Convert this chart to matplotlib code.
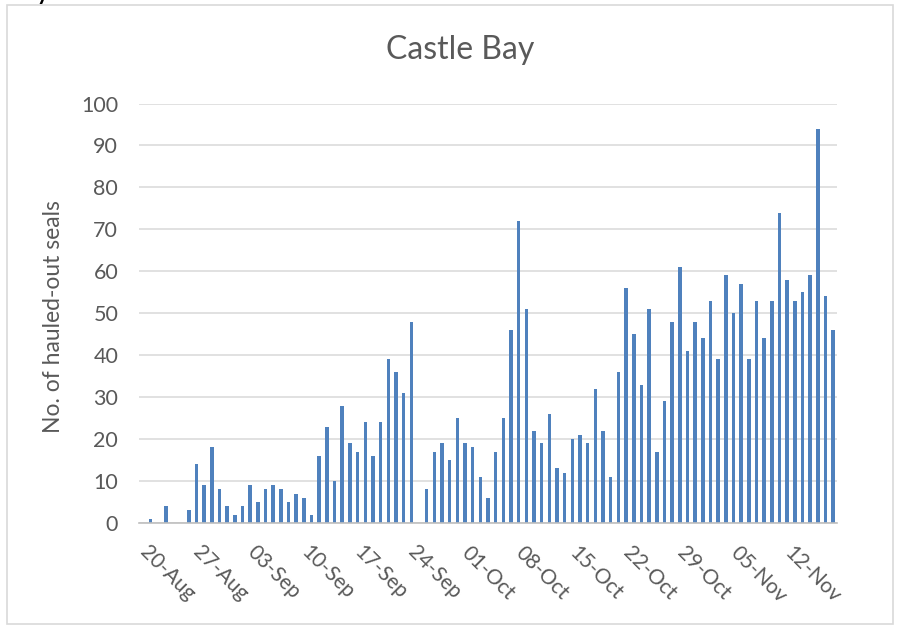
import matplotlib
matplotlib.use("Agg")
import matplotlib.pyplot as plt
from matplotlib.patches import Rectangle
import numpy as np

plt.rcParams["font.family"] = ["Lato", "DejaVu Sans"]

GREY = "#595959"
BLUE = "#4f81bd"

# daily counts 20-Aug .. 18-Nov (0 = no count)
COUNTS = [
    0, 1, 0, 4, 0, 0, 3, 14, 9, 18,
    8, 4, 2, 4, 9, 5, 8, 9, 8, 5,
    7, 6, 2, 16, 23, 10, 28, 19, 17, 24,
    16, 24, 39, 36, 31, 48, 0, 8, 17, 19,
    15, 25, 19, 18, 11, 6, 17, 25, 46, 72,
    51, 22, 19, 26, 13, 12, 20, 21, 19, 32,
    22, 11, 36, 56, 45, 33, 51, 17, 29, 48,
    61, 41, 48, 44, 53, 39, 59, 50, 57, 39,
    53, 44, 53, 74, 58, 53, 55, 59, 94, 54,
    46,
]

TICK_LABELS = [
    "20-Aug", "27-Aug", "03-Sep", "10-Sep", "17-Sep", "24-Sep", "01-Oct",
    "08-Oct", "15-Oct", "22-Oct", "29-Oct", "05-Nov", "12-Nov",
]

TITLE = "Castle Bay"
Y_LABEL = "No. of hauled-out seals"


fig = plt.figure(figsize=(9.01, 6.26), dpi=100)
ax = fig.add_axes([139 / 901, 1 - 523 / 626, (837 - 139) / 901, (523 - 103.5) / 626])

days = np.arange(len(COUNTS))
ax.bar(days, COUNTS, width=0.46, color=BLUE, linewidth=0, zorder=3)

ax.set_xlim(-0.5, len(COUNTS) - 0.5)
ax.set_ylim(0, 100)
ax.set_yticks(range(0, 101, 10))
ax.yaxis.grid(True, color="#d9d9d9", linewidth=1.1, zorder=0)

ax.set_xticks(days[::7])
ax.set_xticklabels(TICK_LABELS, rotation=-45, ha="left", va="center",
                   rotation_mode="anchor")

ax.tick_params(axis="both", length=0, labelsize=15.5, labelcolor=GREY)
ax.tick_params(axis="y", pad=15)
ax.tick_params(axis="x", pad=19, labelsize=15)

for side in ("top", "right", "left"):
    ax.spines[side].set_visible(False)
ax.spines["bottom"].set_color("#bfbfbf")
ax.spines["bottom"].set_linewidth(1.2)
ax.spines["bottom"].set_zorder(4)

fig.text(54 / 901, 1 - 317 / 626, Y_LABEL, rotation=90, ha="center",
         va="center", fontsize=16.5, color=GREY)
fig.text(460 / 901, 1 - 50 / 626, TITLE, ha="center", va="center",
         fontsize=23, color=GREY)

# chart frame and the cut-off text above it
fig.patches.append(Rectangle((7 / 901, 1 - 624 / 626), 886 / 901, 619 / 626,
                             transform=fig.transFigure, fill=False,
                             edgecolor="#d9d9d9", linewidth=1.2))
fig.text(37 / 901, 1.0, "y", ha="left", va="baseline", fontsize=16,
         fontweight="bold", color="black")

fig.savefig("out.png", dpi=100)
